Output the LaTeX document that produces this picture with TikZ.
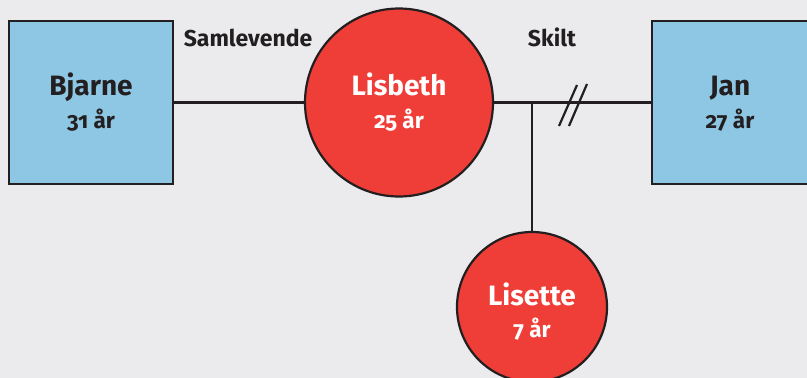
\documentclass[tikz,border=0pt]{standalone}
\usepackage{fontspec}
\setmainfont{Fira Sans}[Numbers=OldStyle]
\definecolor{bg}{HTML}{EBEBED}
\definecolor{manblue}{HTML}{8EC7E3}
\definecolor{womanred}{HTML}{EF3E38}
\definecolor{ink}{HTML}{231F20}
\begin{document}
\begin{tikzpicture}[x=1pt, y=-1pt,
    man/.style={draw=ink, fill=manblue, line width=2.2pt, minimum width=164pt, minimum height=163pt, inner sep=0pt},
    woman/.style={circle, draw=ink, fill=womanred, line width=2.2pt, inner sep=0pt},
    who/.style={anchor=base, font=\fontsize{28}{28}\selectfont\bfseries},
    age/.style={anchor=base, font=\fontsize{22.5}{22.5}\selectfont\bfseries},
    tie/.style={draw=ink, line width=2.2pt},
    rel/.style={anchor=base, text=ink, font=\fontsize{23}{23}\selectfont\bfseries}]
    \fill[bg] (0,0) rectangle (807,378);
    \clip (0,0) rectangle (807,378);
    \useasboundingbox (0,0) rectangle (807,378);
    \node[man] (bjarne) at (91,102.5) {};
    \node[man] (jan) at (734,102.5) {};
    \node[woman, minimum size=188pt] (lisbeth) at (399,102.5) {};
    \node[woman, minimum size=150pt] (lisette) at (532,307) {};
    \coordinate (split) at (532,102.5);
    \coordinate (cut) at (573,105);
    \draw[tie] (bjarne) -- (lisbeth);
    \draw[tie] (lisbeth) -- (jan);
    \draw[tie] (split) -- (lisette);
    \begin{scope}[tie]
        \draw ([xshift=-14pt, yshift=-21pt]cut) -- +(18,-41);
        \draw ([xshift=-4pt, yshift=-21pt]cut) -- +(18,-42);
    \end{scope}
    \node[rel] (samlevende) at (248,46) {Samlevende};
    \node[rel] (skilt) at (552,46) {Skilt};
    \node[who, text=ink] (bjarnename) at (91,95) {Bjarne};
    \node[age, text=ink] (bjarneage) at (91,128) {31 år};
    \node[who, text=ink] (janname) at (730,95) {Jan};
    \node[age, text=ink] (janage) at (730,128) {27 år};
    \node[who, text=white] (lisbethname) at (399,95) {Lisbeth};
    \node[age, text=white] (lisbethage) at (399,128) {25 år};
    \node[who, text=white] (lisettename) at (532,305) {Lisette};
    \node[age, text=white] (lisetteage) at (532,337) {7 år};
\end{tikzpicture}
\end{document}
